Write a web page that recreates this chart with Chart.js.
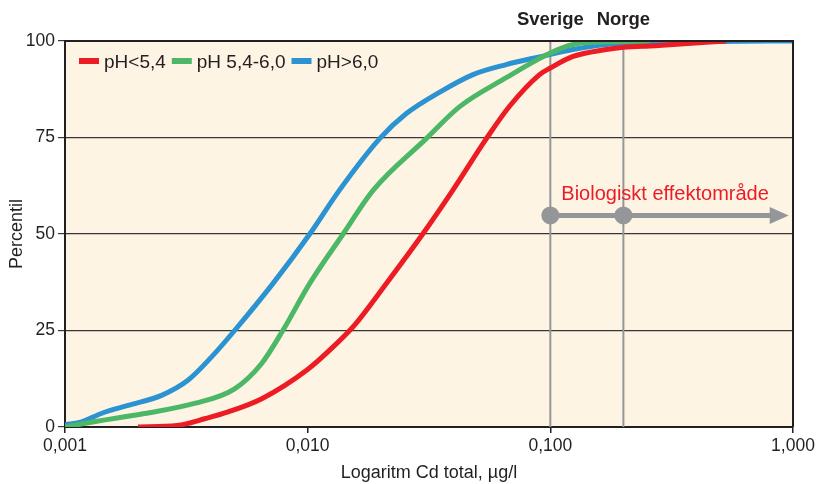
<!DOCTYPE html>
<html>
<head>
<meta charset="utf-8">
<script src="https://cdn.jsdelivr.net/npm/chart.js@4.4.1/dist/chart.umd.min.js"></script>
<style>
  html, body { margin: 0; padding: 0; background: #fff; }
  #wrap { width: 821px; height: 484px; }
</style>
</head>
<body>
<div id="wrap"><canvas id="myChart"></canvas></div>
<script>
// Cd concentration (µg/l) against percentile for three pH classes
const concLow = [0.002, 0.0029, 0.0038, 0.0047, 0.0065, 0.0099, 0.0127, 0.0155, 0.0211, 0.0298, 0.0396, 0.0545, 0.0679, 0.0903, 0.1, 0.124, 0.17, 0.2, 0.27, 0.53];
const pctLow  = [0, 0.4, 2.2, 3.9, 7.4, 14.7, 20.7, 26.2, 37.2, 50, 61.3, 74.7, 83.1, 91.3, 93.0, 96.0, 97.8, 98.4, 98.8, 100];

const concMid = [0.001, 0.0013, 0.00213, 0.00342, 0.005, 0.00645, 0.0079, 0.0102, 0.014, 0.0186, 0.0308, 0.0423, 0.0658, 0.1, 0.124, 0.17, 0.257];
const pctMid  = [0, 1.3, 3.5, 6.1, 9.9, 16.4, 25, 37.2, 50, 61.3, 74.7, 83, 90.5, 96.9, 99.1, 99.8, 100];

const concHigh = [0.001, 0.00117, 0.00141, 0.00182, 0.0025, 0.00321, 0.00401, 0.005, 0.0072, 0.0102, 0.0135, 0.0198, 0.0255, 0.0349, 0.048, 0.0658, 0.0903, 0.124, 0.17, 0.233, 0.5, 1];
const pctHigh  = [0.6, 1.3, 3.5, 5.6, 8.2, 12.1, 18.1, 25, 37.2, 50, 61.3, 74.7, 81.2, 86.7, 91.3, 93.9, 95.9, 97.8, 99.1, 99.6, 99.9, 100];

const seriesNames = ['pH<5,4', 'pH 5,4-6,0', 'pH>6,0'];

const xTicks = [0.001, 0.01, 0.1, 1];
const xTickLabels = ['0,001', '0,010', '0,100', '1,000'];

// national limits and the effect range arrow
const limitValues = [0.1, 0.2];
const limitNames = ['Sverige', 'Norge'];
const effectLevel = 54.8;
const effectEnd = 0.96;
const effectLabel = 'Biologiskt effektområde';

const FONT = '"Liberation Sans", Arial, Helvetica, sans-serif';
const INK = '#231f20';
const GREY = '#959699';

const toPoints = (xs, ys) => xs.map((x, i) => ({ x: x, y: ys[i] }));

const data = {
  datasets: [
    { label: seriesNames[0], data: toPoints(concLow, pctLow), borderColor: '#ed1c24' },
    { label: seriesNames[1], data: toPoints(concMid, pctMid), borderColor: '#4cb867' },
    { label: seriesNames[2], data: toPoints(concHigh, pctHigh), borderColor: '#2b93d1' }
  ].map(ds => Object.assign(ds, {
    borderWidth: 5,
    pointRadius: 0,
    cubicInterpolationMode: 'monotone',
    borderCapStyle: 'butt',
    fill: false
  }))
};

const plotFrame = {
  id: 'plotFrame',
  beforeDraw(chart) {
    const { ctx, chartArea: a } = chart;
    ctx.save();
    ctx.fillStyle = '#fdf4e3';
    ctx.fillRect(a.left, a.top, a.right - a.left, a.bottom - a.top);
    ctx.restore();
  },
  beforeDatasetsDraw(chart) {
    const { ctx, chartArea: a, scales } = chart;
    ctx.save();
    ctx.strokeStyle = GREY;
    ctx.lineWidth = 2;
    limitValues.forEach(v => {
      const x = scales.x.getPixelForValue(v);
      ctx.beginPath();
      ctx.moveTo(x, a.top);
      ctx.lineTo(x, a.bottom);
      ctx.stroke();
    });
    // names above the plot
    ctx.fillStyle = INK;
    ctx.font = 'bold 18.5px ' + FONT;
    ctx.textAlign = 'center';
    ctx.textBaseline = 'middle';
    limitValues.forEach((v, i) => {
      ctx.fillText(limitNames[i], scales.x.getPixelForValue(v), 20);
    });
    ctx.restore();
  },
  afterDatasetsDraw(chart) {
    const { ctx, chartArea: a, scales } = chart;
    const y = scales.y.getPixelForValue(effectLevel);
    const x0 = scales.x.getPixelForValue(limitValues[0]);
    const tip = scales.x.getPixelForValue(effectEnd);
    ctx.save();
    ctx.strokeStyle = GREY;
    ctx.fillStyle = GREY;
    ctx.lineWidth = 5;
    ctx.beginPath();
    ctx.moveTo(x0, y);
    ctx.lineTo(tip - 16, y);
    ctx.stroke();
    ctx.beginPath();
    ctx.moveTo(tip, y);
    ctx.lineTo(tip - 19, y - 8.5);
    ctx.lineTo(tip - 19, y + 8.5);
    ctx.closePath();
    ctx.fill();
    limitValues.forEach(v => {
      ctx.beginPath();
      ctx.arc(scales.x.getPixelForValue(v), y, 9, 0, Math.PI * 2);
      ctx.fill();
    });
    ctx.fillStyle = '#ed1c24';
    ctx.font = '20px ' + FONT;
    ctx.textAlign = 'left';
    ctx.textBaseline = 'alphabetic';
    ctx.fillText(effectLabel, x0 + 11, y - 15);

    // legend inside the plot
    ctx.font = '19px ' + FONT;
    ctx.textBaseline = 'middle';
    let lx = a.left + 14;
    const ly = a.top + 20;
    chart.data.datasets.forEach(ds => {
      ctx.fillStyle = ds.borderColor;
      ctx.fillRect(lx, ly - 3, 20, 6);
      lx += 25;
      ctx.fillStyle = INK;
      ctx.fillText(ds.label, lx, ly + 2);
      lx += ctx.measureText(ds.label).width + 6;
    });

    // top and right frame
    ctx.strokeStyle = INK;
    ctx.lineWidth = 2;
    ctx.beginPath();
    ctx.moveTo(a.left, a.top);
    ctx.lineTo(a.right, a.top);
    ctx.lineTo(a.right, a.bottom);
    ctx.stroke();
    ctx.restore();
  }
};

const config = {
  type: 'line',
  data: data,
  options: {
    responsive: true,
    maintainAspectRatio: false,
    animation: false,
    layout: { padding: { top: 41, right: 28, left: 0, bottom: 0 } },
    plugins: {
      legend: { display: false },
      tooltip: { enabled: false }
    },
    scales: {
      x: {
        type: 'logarithmic',
        min: 0.001,
        max: 1,
        afterBuildTicks: scale => { scale.ticks = xTicks.map(v => ({ value: v })); },
        afterFit: scale => { scale.height = 57; },
        ticks: {
          autoSkip: false,
          maxRotation: 0,
          padding: 3,
          color: INK,
          font: { family: FONT, size: 17.5 },
          callback: (v, i) => xTickLabels[i]
        },
        grid: { drawOnChartArea: false, drawTicks: true, tickLength: 6, color: INK, lineWidth: 1.5 },
        border: { color: INK, width: 2 },
        title: {
          display: true,
          text: 'Logaritm Cd total, µg/l',
          color: INK,
          font: { family: FONT, size: 18 },
          padding: { top: 0, bottom: 0 }
        }
      },
      y: {
        min: 0,
        max: 100,
        afterFit: scale => { scale.width = 65; },
        ticks: {
          stepSize: 25,
          padding: 3,
          color: INK,
          font: { family: FONT, size: 17.5 }
        },
        grid: { color: '#3a3637', lineWidth: 1.2, tickLength: 7 },
        border: { color: INK, width: 2 },
        title: {
          display: true,
          text: 'Percentil',
          color: INK,
          font: { family: FONT, size: 18 },
          padding: { top: 6, bottom: 0 }
        }
      }
    }
  },
  plugins: [plotFrame]
};

const chart = new Chart(document.getElementById('myChart'), config);
</script>
</body>
</html>
